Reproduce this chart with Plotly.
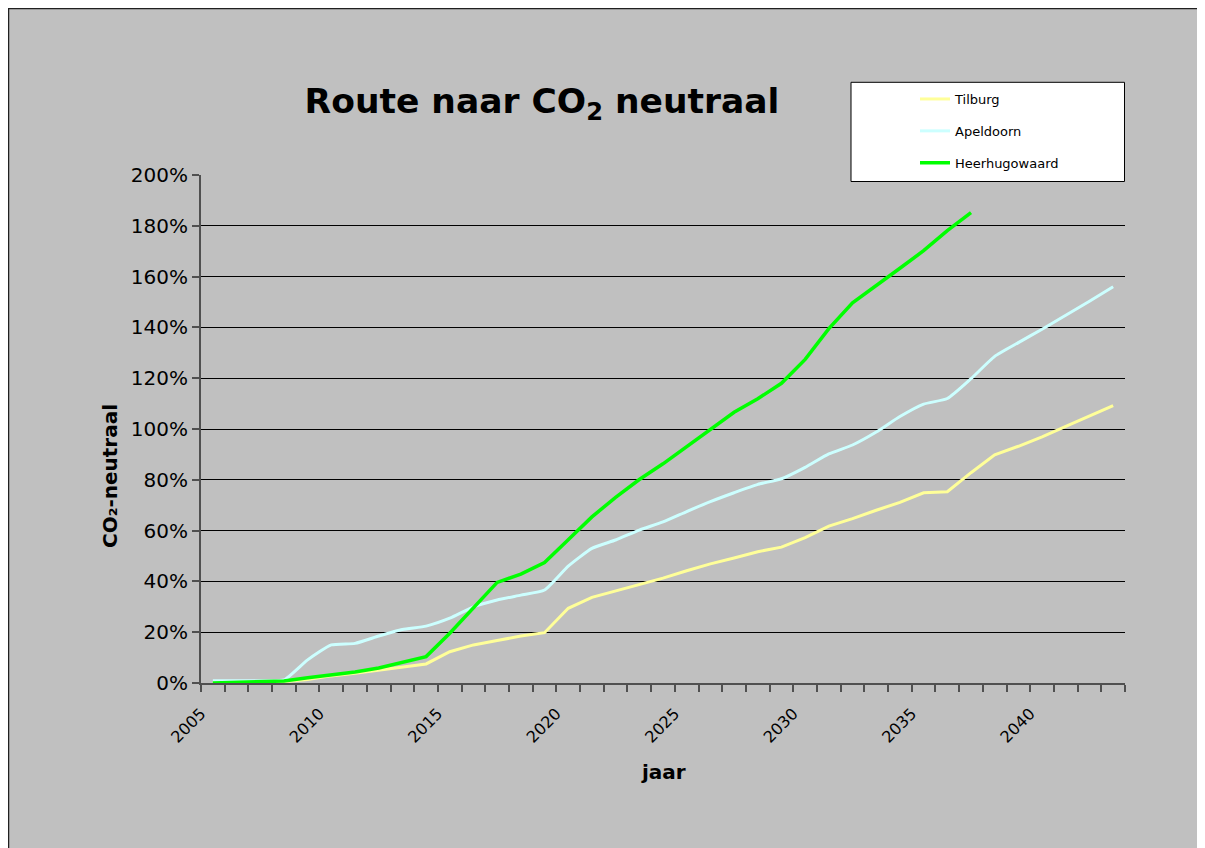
import plotly.graph_objects as go

years = list(range(2005, 2044))

tilburg = [0.0, 0.2, 0.3, 0.5, 1.4, 2.8, 3.8, 5.1, 6.4, 7.5,
           12.3, 15.0, 16.7, 18.5, 19.8, 29.4, 33.7, 36.2, 38.8, 41.3,
           44.2, 46.9, 49.2, 51.7, 53.5, 57.2, 61.8, 64.7, 68.0, 71.1,
           74.9, 75.3, 82.8, 89.8, 93.2, 96.9, 101.0, 105.1, 109.2]

apeldoorn = [0.9, 0.9, 0.9, 1.2, 9.1, 15.0, 15.6, 18.5, 21.1, 22.4,
             25.5, 30.0, 32.7, 34.6, 36.6, 46.0, 53.0, 56.3, 60.2, 63.4,
             67.5, 71.4, 74.9, 78.2, 80.4, 84.9, 90.2, 93.7, 98.8, 104.9,
             109.8, 112.0, 119.8, 128.6, 134.0, 139.3, 144.8, 150.3, 156.0]

heerhugowaard = [0.0, 0.3, 0.5, 0.8, 2.1, 3.3, 4.3, 5.9, 8.2, 10.4,
                 19.6, 29.8, 39.6, 42.9, 47.4, 56.4, 65.4, 73.1, 80.1, 86.3,
                 93.0, 99.9, 106.6, 111.9, 118.0, 127.4, 139.5, 149.7, 156.7, 163.3,
                 170.2, 178.1, 185.2]

label_years = [2005, 2010, 2015, 2020, 2025, 2030, 2035, 2040]
y_ticks = list(range(0, 201, 20))

FONT = "DejaVu Sans"
OFF = 8  # page body margin
W, H = 1205 - OFF, 848 - OFF
# plot area in screen pixels: x 201..1125, y 175..683
L = 201 - OFF
T = 175 - OFF
PW, PH = 924, 508
R = W - L - PW
B = H - T - PH


def px(x):
    return (x - OFF - L) / PW


def py(y):
    return (T + PH - (y - OFF)) / PH


fig = go.Figure()
fig.add_trace(go.Scatter(x=years, y=tilburg, mode="lines", name="Tilburg",
                         legendgroup="a",
                         line=dict(color="#FFFF99", width=3)))
fig.add_trace(go.Scatter(x=years, y=apeldoorn, mode="lines", name="Apeldoorn",
                         legendgroup="b",
                         line=dict(color="#CCFFFF", width=3, shape="spline", smoothing=0.5)))
fig.add_trace(go.Scatter(x=years[:len(heerhugowaard)], y=heerhugowaard, mode="lines",
                         name="Heerhugowaard", legendgroup="c",
                         line=dict(color="#00FF00", width=3.5)))

fig.update_layout(
    width=W, height=H,
    margin=dict(l=L, r=R, t=T, b=B, pad=0),
    paper_bgcolor="#C0C0C0",
    plot_bgcolor="rgba(0,0,0,0)",
    font=dict(family=FONT, color="black"),
    title=dict(text="<b>Route naar CO<sub>2</sub> neutraal</b>",
               font=dict(family=FONT, size=34.5, color="black"),
               x=(542 - OFF) / W, xanchor="center", xref="container",
               y=1 - (101 - OFF) / H, yanchor="middle", yref="container"),
    showlegend=True,
    legend=dict(x=px(915), y=py(84), xanchor="left", yanchor="top",
                bgcolor="rgba(0,0,0,0)", borderwidth=0,
                traceorder="grouped", tracegroupgap=12,
                font=dict(family=FONT, size=13, color="black")),
    xaxis=dict(range=[2004.5, 2043.5], tickmode="array",
               tickvals=[v - 0.5 for v in label_years],
               ticktext=[str(v) for v in label_years],
               tickangle=-45, ticks="", ticklen=0,
               tickfont=dict(family=FONT, size=16, color="black"),
               showgrid=False, zeroline=False,
               showline=True, linecolor="#505050", linewidth=2,
               ticklabelstandoff=13,
               minor=dict(ticks="outside", ticklen=7, tickcolor="#505050",
                          tickwidth=1.5, tick0=2004.5, dtick=1, showgrid=False)),
    yaxis=dict(range=[0, 200], tickmode="array", tickvals=y_ticks,
               ticktext=[f"{v}%" for v in y_ticks],
               ticks="outside", ticklen=7, tickcolor="#505050", tickwidth=1.5,
               tickfont=dict(family=FONT, size=20, color="black"),
               showgrid=True, gridcolor="black", gridwidth=1,
               zeroline=False, showline=True, linecolor="#505050", linewidth=2),
    shapes=[
        dict(type="rect", xref="paper", yref="paper",
             x0=px(8.5), x1=px(1203.5), y0=py(900), y1=py(8.5),
             fillcolor="#C0C0C0", line=dict(color="#202020", width=1.5),
             layer="below"),
        dict(type="rect", xref="paper", yref="paper",
             x0=px(851), x1=px(1124.5), y0=py(181.5), y1=py(82.3),
             fillcolor="white", line=dict(color="black", width=1),
             layer="above"),
    ],
    annotations=[
        dict(text="<b>CO₂-neutraal</b>", xref="paper", yref="paper",
             x=px(110), y=py(476), textangle=-90, showarrow=False,
             xanchor="center", yanchor="middle",
             font=dict(family=FONT, size=20, color="black")),
        dict(text="<b>jaar</b>", xref="paper", yref="paper",
             x=px(663), y=py(772), showarrow=False,
             xanchor="center", yanchor="middle",
             font=dict(family=FONT, size=20, color="black")),
    ],
)

fig.write_html("out.html", post_script="document.body.style.overflow='hidden';")
